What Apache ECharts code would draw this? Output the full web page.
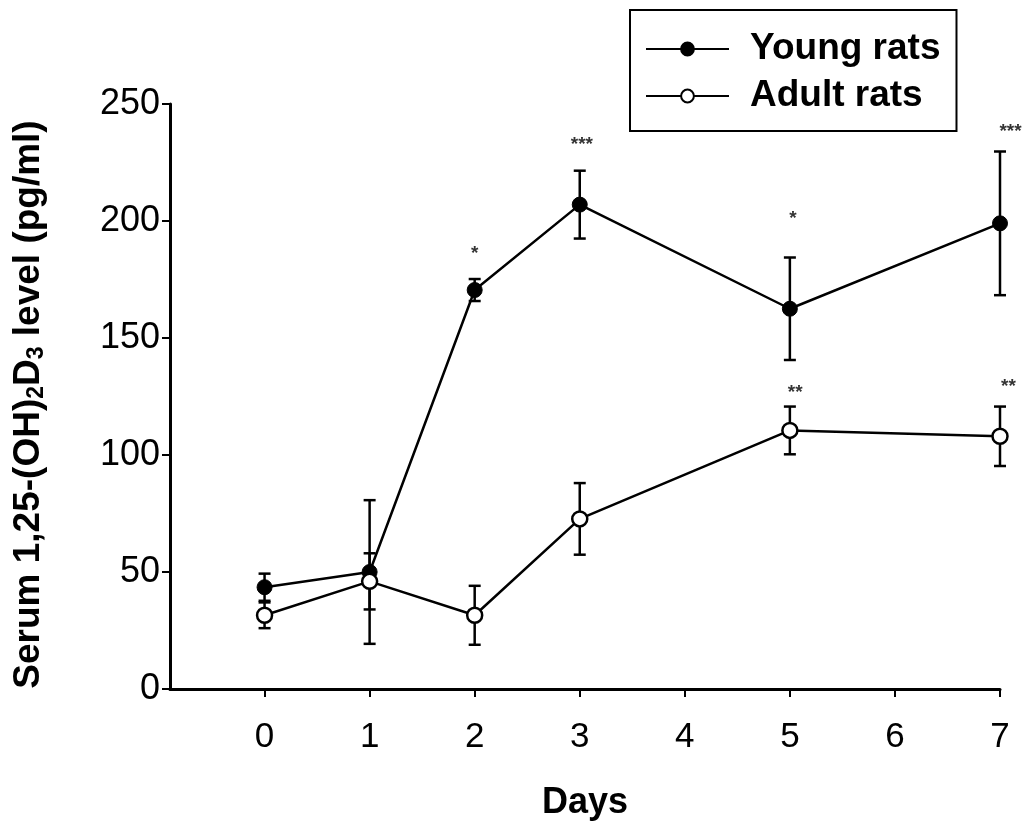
<!DOCTYPE html>
<html>
<head>
<meta charset="utf-8">
<script src="https://cdn.jsdelivr.net/npm/echarts@6/dist/echarts.min.js"></script>
<style>
  html, body { margin: 0; padding: 0; background: #fff; }
  #chart { width: 1023px; height: 823px; }
</style>
</head>
<body>
<div id="chart"></div>
<script>
// days sampled
const days = [0, 1, 2, 3, 5, 7]
const dayTicks = [0, 1, 2, 3, 4, 5, 6, 7]

// serum 1,25-(OH)2D3, pg/ml
const youngMean = [43.5, 50, 170.5, 207, 162.5, 199]
const youngErr = [5.8, 30.7, 4.7, 14.5, 21.9, 30.7]
const adultMean = [31.5, 46, 31.5, 72.7, 110.5, 108]
const adultErr = [5.5, 12, 12.6, 15.3, 10.2, 12.7]

// significance marks
const starX = [2, 3.02, 5.03, 7.1, 5.05, 7.08]
const starY = [186, 232.5, 201, 238, 126.5, 129]
const starText = ['*', '***', '*', '***', '**', '**']

const FONT = 'Liberation Sans, Arial, sans-serif'

function points(mean) {
  return days.map((d, i) => [d, mean[i]])
}

function bars(mean, err) {
  return days.map((d, i) => [d, mean[i] - err[i], mean[i] + err[i]])
}

function renderErrorBar(params, api) {
  var x = api.value(0)
  var lo = api.coord([x, api.value(1)])
  var hi = api.coord([x, api.value(2)])
  var cap = 6
  var style = { stroke: '#000', lineWidth: 2.5 }
  return {
    type: 'group',
    children: [
      { type: 'line', shape: { x1: hi[0], y1: hi[1], x2: lo[0], y2: lo[1] }, style: style },
      { type: 'line', shape: { x1: hi[0] - cap, y1: hi[1], x2: hi[0] + cap, y2: hi[1] }, style: style },
      { type: 'line', shape: { x1: lo[0] - cap, y1: lo[1], x2: lo[0] + cap, y2: lo[1] }, style: style }
    ]
  }
}

var starData = starX.map((x, i) => [x, starY[i], starText[i]])

const chart = echarts.init(document.getElementById('chart'))
var option = {
  animation: false,
  backgroundColor: '#fff',
  grid: {
    left: 170,
    right: 23,
    top: 104,
    bottom: 134,
    outerBoundsMode: 'none'
  },
  legend: {
    data: ['Young rats', 'Adult rats'],
    orient: 'vertical',
    left: 630,
    top: 10,
    padding: [19, 16, 15, 15],
    itemGap: 7,
    itemWidth: 83,
    itemHeight: 16,
    borderColor: '#000',
    borderWidth: 2,
    textStyle: {
      fontFamily: FONT,
      fontWeight: 'bold',
      fontSize: 37,
      lineHeight: 40,
      color: '#000',
      padding: [0, 0, 0, 16]
    }
  },
  xAxis: {
    type: 'value',
    min: -0.9,
    max: 7,
    name: 'Days',
    nameLocation: 'middle',
    nameGap: 96,
    nameTextStyle: {
      fontFamily: FONT,
      fontWeight: 'bold',
      fontSize: 36,
      color: '#000'
    },
    axisLine: { onZero: false, lineStyle: { color: '#000', width: 3 } },
    axisTick: { customValues: dayTicks, length: 8, lineStyle: { color: '#000', width: 2 } },
    axisLabel: {
      customValues: dayTicks,
      margin: 31,
      fontFamily: FONT,
      fontSize: 35,
      color: '#000'
    },
    splitLine: { show: false }
  },
  yAxis: {
    type: 'value',
    min: 0,
    max: 250,
    interval: 50,
    name: 'Serum 1,25-(OH){sub|2}D{sub|3} level (pg/ml)',
    nameLocation: 'middle',
    nameRotate: 90,
    nameGap: 122,
    nameTextStyle: {
      fontFamily: FONT,
      fontWeight: 'bold',
      fontSize: 37,
      color: '#000',
      padding: [0, 16, 0, 0],
      rich: {
        sub: {
          fontFamily: FONT,
          fontWeight: 'bold',
          fontSize: 23,
          color: '#000',
          padding: [15, 0, 0, 0]
        }
      }
    },
    axisLine: { show: true, onZero: false, lineStyle: { color: '#000', width: 3 } },
    axisTick: { show: true, length: 8, lineStyle: { color: '#000', width: 2 } },
    axisLabel: {
      margin: 10,
      fontFamily: FONT,
      fontSize: 36,
      color: '#000'
    },
    splitLine: { show: false }
  },
  series: [
    {
      name: 'Young err',
      type: 'custom',
      renderItem: renderErrorBar,
      encode: { x: 0, y: [1, 2] },
      data: bars(youngMean, youngErr),
      z: 1
    },
    {
      name: 'Adult err',
      type: 'custom',
      renderItem: renderErrorBar,
      encode: { x: 0, y: [1, 2] },
      data: bars(adultMean, adultErr),
      z: 1
    },
    {
      name: 'Young rats',
      type: 'line',
      data: points(youngMean),
      symbol: 'circle',
      symbolSize: 15,
      lineStyle: { color: '#000', width: 2.5 },
      itemStyle: { color: '#000', borderColor: '#000', borderWidth: 1 },
      z: 3
    },
    {
      name: 'Adult rats',
      type: 'line',
      data: points(adultMean),
      symbol: 'circle',
      symbolSize: 15,
      lineStyle: { color: '#000', width: 2.5 },
      itemStyle: { color: '#fff', borderColor: '#000', borderWidth: 2.5 },
      z: 3
    },
    {
      name: 'stars',
      type: 'scatter',
      data: starData,
      symbolSize: 0,
      clip: false,
      label: {
        show: true,
        position: 'inside',
        formatter: function (p) { return p.value[2] },
        fontFamily: FONT,
        fontWeight: 'bold',
        fontSize: 19,
        color: '#000'
      },
      z: 4
    }
  ]
}
chart.setOption(option)
</script>
</body>
</html>
